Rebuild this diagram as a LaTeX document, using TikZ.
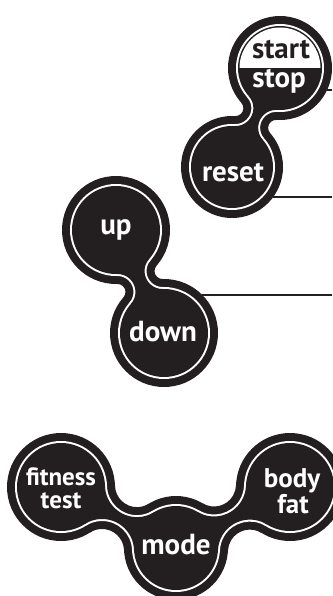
\documentclass[tikz,border=0pt]{standalone}
\usepackage{fontspec}
\setmainfont{PT Sans}
\usetikzlibrary{calc,intersections,backgrounds}
\definecolor{ink}{RGB}{35,31,32}
\newcommand{\padfont}[1]{\fontsize{#1}{#1}\selectfont\bfseries}
% cutting circles of a neck: both tangent to the two pads
\newcommand{\necksetup}[6]{%
  \path[name path=#1-a] (#2) circle ({#4+#6});
  \path[name path=#1-b] (#3) circle ({#5+#6});
  \path[name intersections={of=#1-a and #1-b, by={#1-c1,#1-c2}}];}
% neck between two pads, inset so that the cutting radius is #4
\newcommand{\neckfill}[5]{%
  \pgfmathsetmacro\nr{#4}%
  \fill[#5] let \p1=($(#2)-(#1-c1)$), \p2=($(#3)-(#1-c1)$),
      \p3=($(#3)-(#1-c2)$), \p4=($(#2)-(#1-c2)$),
      \n1={atan2(\y1,\x1)}, \n2={atan2(\y2,\x2)},
      \n3={atan2(\y3,\x3)}, \n4={atan2(\y4,\x4)} in
    ($(#1-c1)!\nr pt!(#2)$)
      arc[start angle=\n1, delta angle={mod(\n2-\n1+540,360)-180}, radius=\nr]
    -- (#3) -- ($(#1-c2)!\nr pt!(#3)$)
      arc[start angle=\n3, delta angle={mod(\n4-\n3+540,360)-180}, radius=\nr]
    -- (#2) -- cycle;}
% all pads and necks, inset by #1
\newcommand{\padlayer}[2]{%
  \fill[#2] (ss.center) circle ({52-#1}) (reset.center) circle ({51-#1})
    (up.center) circle ({54-#1}) (down.center) circle ({54-#1})
    (fit.center) circle ({54-#1}) (mode.center) circle ({52-#1})
    (body.center) circle ({54-#1});
  \neckfill{nss}{ss.center}{reset.center}{8+#1}{#2}
  \neckfill{nud}{up.center}{down.center}{8+#1}{#2}
  \neckfill{nfm}{fit.center}{mode.center}{22+#1}{#2}
  \neckfill{nmb}{mode.center}{body.center}{22+#1}{#2}}
\tikzset{
  pad/.style={circle, inner sep=0pt, outer sep=0pt},
  lbl/.style={font=\padfont{29}, text=white, inner sep=0pt, anchor=base},
  lead/.style={draw=ink, line width=1.6pt},
}

\begin{document}
\begin{tikzpicture}[x=1pt,y=1pt]
  \useasboundingbox (0,0) rectangle (332,-596);
  \clip (0,0) rectangle (332,-596);
  % ---- pads ----
  \node[pad, minimum size=104pt] (ss)    at (280,-68)  {};
  \node[pad, minimum size=102pt] (reset) at (232,-167) {};
  \node[pad, minimum size=108pt] (up)    at (116,-230) {};
  \node[pad, minimum size=108pt] (down)  at (164,-333) {};
  \node[pad, minimum size=108pt] (fit)   at (61,-487)  {};
  \node[pad, minimum size=104pt] (mode)  at (176,-548) {};
  \node[pad, minimum size=108pt] (body)  at (290,-487) {};
  \necksetup{nss}{ss.center}{reset.center}{52}{51}{8}
  \necksetup{nud}{up.center}{down.center}{54}{54}{8}
  \necksetup{nfm}{fit.center}{mode.center}{54}{52}{22}
  \necksetup{nmb}{mode.center}{body.center}{52}{54}{22}
  \begin{scope}[on background layer]
    \padlayer{0}{ink}
    \padlayer{8}{white}
    \padlayer{10}{ink}
    % white upper half of start/stop
    \begin{scope}
      \clip (ss.center) ++(-60,0) rectangle ++(120,60);
      \fill[white] (ss.center) circle (40.5);
    \end{scope}
  \end{scope}
  % ---- labels ----
  \node[lbl, text=ink] (startlbl) at (281,-59) {start};
  \node[lbl] (stoplbl)  at (279,-88)  {stop};
  \node[lbl] (resetlbl) at (233,-182) {reset};
  \node[lbl] (uplbl)    at (116,-234) {up};
  \node[lbl] (downlbl)  at (163,-341) {down};
  \node[lbl, font=\padfont{25}] (fitlbl)  at (61,-485) {fitness};
  \node[lbl, font=\padfont{25}] (testlbl) at (61,-508) {test};
  \node[lbl, font=\padfont{27}] (bodylbl) at (292,-487) {body};
  \node[lbl, font=\padfont{27}] (fatlbl)  at (293,-513) {fat};
  \node[lbl] (modelbl)  at (176,-554) {mode};
  % ---- leads to the right edge ----
  \coordinate (edge) at (332,0);
  \draw[lead] (ss.-25) -- (ss.-25 -| edge);
  \draw[lead] (reset.-36) -- (reset.-36 -| edge);
  \draw[lead] (down.45) -- (down.45 -| edge);
\end{tikzpicture}
\end{document}
